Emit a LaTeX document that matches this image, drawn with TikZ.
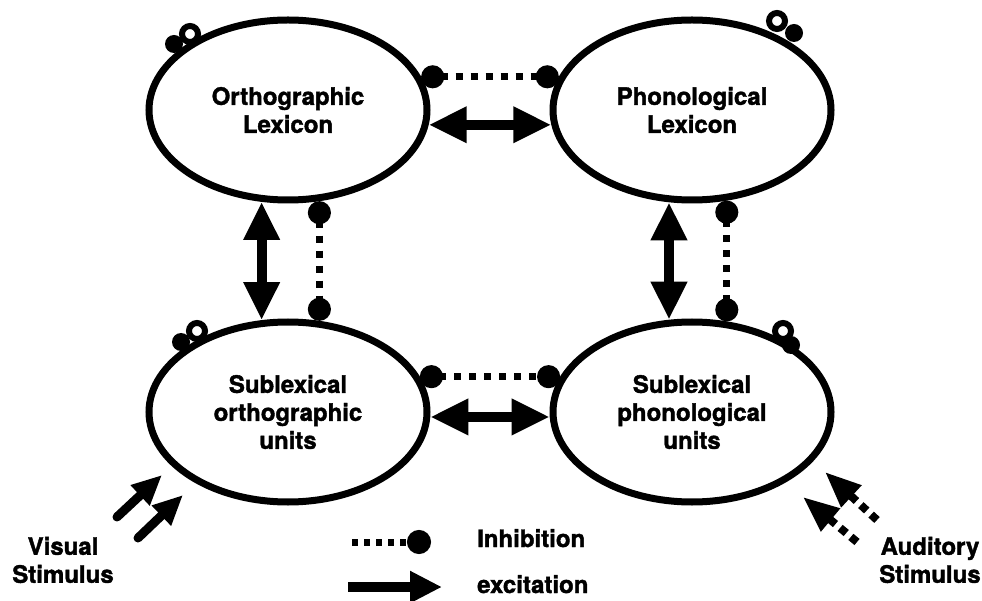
\documentclass[tikz,border=0pt]{standalone}
\usepackage{fontspec}
\setmainfont{TeX Gyre Heros}[BoldFeatures={FakeBold=1.6}]
\usetikzlibrary{positioning,arrows.meta,shapes.geometric}
\tikzset{%
unit/.style={ellipse,draw,line width=7pt,minimum width=278pt,minimum height=180pt,inner sep=0,align=center},
excite/.style={line width=10pt,{Triangle[length=38pt,width=34pt]}-{Triangle[length=38pt,width=34pt]}},
inhibit/.style={line width=7pt,dash pattern=on 7pt off 8pt,{Circle[length=23pt]}-{Circle[length=23pt]}},
selfloop/.style={draw,circle,line width=6pt,minimum size=16pt,inner sep=0},
selfdot/.style={fill,circle,minimum size=18pt,inner sep=0},
seeing/.style={line width=9pt,line cap=round,-{Triangle[length=30pt,width=26pt]}},
hearing/.style={line width=8pt,dash pattern=on 8pt off 6pt,-{Triangle[length=36pt,width=28pt]}},
legendtext/.style={anchor=base west,inner sep=0},
every node/.style={font=\fontsize{24}{28}\selectfont\bfseries}
}
\begin{document}
\begin{tikzpicture}[x=1pt,y=-1pt]
\useasboundingbox (0,0) rectangle (982,601);

    % the four processing units
    \node[unit] (ortholex) at (288,110) {Orthographic\\Lexicon};
    \node[unit] (phonolex) at (692,110) {Phonological\\Lexicon};
    \node[unit] (orthosub) at (288,412) {Sublexical\\orthographic\\units};
    \node[unit] (phonosub) at (692,412) {Sublexical\\phonological\\units};

    % self inhibition
    \node[selfloop] (looptl) at (190,34) {};
    \node[selfdot] (dottl) at (174,44) {};
    \node[selfloop] (looptr) at (777,21) {};
    \node[selfdot] (dottr) at (794,33) {};
    \node[selfloop] (loopbl) at (197,331) {};
    \node[selfdot] (dotbl) at (181,342) {};
    \node[selfloop] (loopbr) at (783,331) {};
    \node[selfdot] (dotbr) at (791,345) {};

    \draw[excite] (ortholex.-6) -- (phonolex.186);
    \draw[inhibit] (ortholex.14) -- (phonolex.166);

    \draw[excite] (ortholex.254) -- (orthosub.106);
    \draw[inhibit] (ortholex.289) -- (orthosub.71);

    \draw[excite] (phonolex.256) -- (phonosub.104);
    \draw[inhibit] (phonolex.291) -- (phonosub.69);

    \draw[excite] (orthosub.-2) -- (phonosub.182);
    \draw[inhibit] (orthosub.15) -- (phonosub.165);

    % input
    \coordinate (vistail1) at (117,517);
    \coordinate (vistip1) at (162,475);
    \coordinate (vistail2) at (138,538);
    \coordinate (vistip2) at (183,495);
    \draw[seeing] (vistail1) -- (vistip1);
    \draw[seeing] (vistail2) -- (vistip2);
    \node[align=center,inner sep=0] (visual) at (63,560) {Visual\\Stimulus};

    \coordinate (audtail1) at (877,520);
    \coordinate (audtip1) at (825,472);
    \coordinate (audtail2) at (857,542);
    \coordinate (audtip2) at (803,497);
    \draw[hearing] (audtail1) -- (audtip1);
    \draw[hearing] (audtail2) -- (audtip2);
    \node[align=center,inner sep=0] (auditory) at (930,560) {Auditory\\Stimulus};

    % legend
    \coordinate (inhstart) at (352,542);
    \coordinate (inhend) at (431,542);
    \draw[line width=7pt,dash pattern=on 6pt off 6pt,-{Circle[length=24pt]}] (inhstart) -- (inhend);
    \node[legendtext] (inhtext) at (477,547) {Inhibition};

    \coordinate (excstart) at (348,587);
    \coordinate (excend) at (442,587);
    \draw[line width=10pt,-{Triangle[length=32pt,width=30pt]}] (excstart) -- (excend);
    \node[legendtext] (exctext) at (477,593) {excitation};

\end{tikzpicture}
\end{document}
